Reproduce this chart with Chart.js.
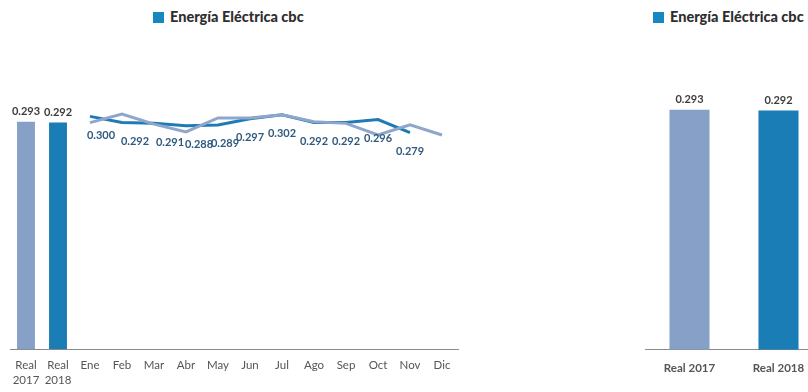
<!DOCTYPE html>
<html>
<head>
<meta charset="utf-8">
<script src="https://cdn.jsdelivr.net/npm/chart.js@4"></script>
<style>
  body { margin: 0; width: 808px; height: 392px; overflow: hidden; background: #fff; position: relative; font-family: Lato, sans-serif; }
  .titulo { position: absolute; top: 8px; font-weight: 900; font-size: 14.5px; color: #2f2f2f; white-space: nowrap; }
  .titulo span { display: inline-block; width: 11px; height: 11px; background: #1787bf; margin-right: 6px; vertical-align: -1px; }
  #boxIzq { position: absolute; left: 0; top: 0; width: 470px; height: 402px; }
  #boxDer { position: absolute; left: 645px; top: 0; width: 180px; height: 403px; }
</style>
</head>
<body>
<div class="titulo" style="left:153px"><span></span>Energía Eléctrica cbc</div>
<div class="titulo" style="left:653px"><span></span>Energía Eléctrica cbc</div>
<div id="boxIzq"><canvas id="graficoMensual"></canvas></div>
<div id="boxDer"><canvas id="graficoAnual"></canvas></div>
<script>
const categorias = ['Real 2017', 'Real 2018', 'Ene', 'Feb', 'Mar', 'Abr', 'May', 'Jun', 'Jul', 'Ago', 'Sep', 'Oct', 'Nov', 'Dic'];
const realAnual = [0.293, 0.292];
const mensual2017 = [0.292, 0.303, 0.290, 0.280, 0.298, 0.298, 0.302, 0.293, 0.291, 0.276, 0.289, 0.276];
const mensual2018 = [0.300, 0.292, 0.291, 0.288, 0.289, 0.297, 0.302, 0.292, 0.292, 0.296, 0.279];

const azulClaro = '#87a0c7';
const azulOscuro = '#1b7db5';

// corrimiento horizontal de las etiquetas de la linea 2018 (para que no se pisen)
const corrimientoX = [11, 13, 16, 13, 7, 0, 0, 0, 0, 0, 0];

// dibuja los valores sobre barras y bajo la linea 2018
const etiquetas = {
  id: 'etiquetas',
  afterDatasetsDraw(chart) {
    const ctx = chart.ctx;
    ctx.save();
    ctx.font = 'bold 11px Lato';
    ctx.textAlign = 'center';
    ctx.textBaseline = 'middle';
    chart.data.datasets.forEach((ds, i) => {
      if (!ds.conEtiqueta) return;
      const meta = chart.getDatasetMeta(i);
      let n = 0;
      meta.data.forEach((el, j) => {
        const v = ds.data[j];
        if (v == null) return;
        if (ds.type === 'line') {
          ctx.fillStyle = '#2f5a80';
          ctx.fillText(v.toFixed(3), el.x + (corrimientoX[n] || 0), el.y + 19);
          n++;
        } else {
          ctx.fillStyle = '#3c3c3c';
          ctx.fillText(v.toFixed(3), el.x, el.y - 10);
        }
      });
    });
    ctx.restore();
  }
};

const ejeX = (fuente, padding) => ({
  grid: { display: false, drawTicks: false },
  border: { display: true, color: '#8a8a8a', width: 1 },
  ticks: { color: '#555', font: fuente, padding: padding, maxRotation: 0, autoSkip: false }
});

new Chart(document.getElementById('graficoMensual'), {
  data: {
    labels: categorias.map(c => c.startsWith('Real') ? c.split(' ') : c),
    datasets: [
      {
        type: 'bar',
        data: [...realAnual, ...mensual2017.map(() => null)],
        backgroundColor: [azulClaro, azulOscuro],
        barPercentage: 0.56,
        categoryPercentage: 1,
        conEtiqueta: true
      },
      {
        type: 'line',
        data: [null, null, ...mensual2017],
        borderColor: '#8ea5cc',
        borderWidth: 3,
        pointRadius: 0,
        tension: 0
      },
      {
        type: 'line',
        data: [null, null, ...mensual2018],
        borderColor: '#1f7bb6',
        borderWidth: 3,
        pointRadius: 0,
        tension: 0,
        conEtiqueta: true
      }
    ]
  },
  options: {
    responsive: true,
    maintainAspectRatio: false,
    animation: false,
    layout: { padding: { left: 10, right: 12, top: 22, bottom: 6 } },
    plugins: { legend: { display: false }, tooltip: { enabled: false } },
    scales: {
      x: ejeX({ family: 'Lato', size: 11.5, lineHeight: 1.25 }, 9),
      y: { display: false, min: 0, max: 0.4216 }
    }
  },
  plugins: [etiquetas]
});

new Chart(document.getElementById('graficoAnual'), {
  type: 'bar',
  data: {
    labels: categorias.slice(0, 2),
    datasets: [{
      data: realAnual,
      backgroundColor: [azulClaro, azulOscuro],
      barPercentage: 0.45,
      categoryPercentage: 1,
      conEtiqueta: true
    }]
  },
  options: {
    responsive: true,
    maintainAspectRatio: false,
    animation: false,
    layout: { padding: { left: 0, right: 2, top: 22, bottom: 17 } },
    plugins: { legend: { display: false }, tooltip: { enabled: false } },
    scales: {
      x: ejeX({ family: 'Lato', size: 11.5, weight: 'bold', lineHeight: 1.25 }, 11),
      y: { display: false, min: 0, max: 0.4 }
    }
  },
  plugins: [etiquetas]
});
</script>
</body>
</html>
